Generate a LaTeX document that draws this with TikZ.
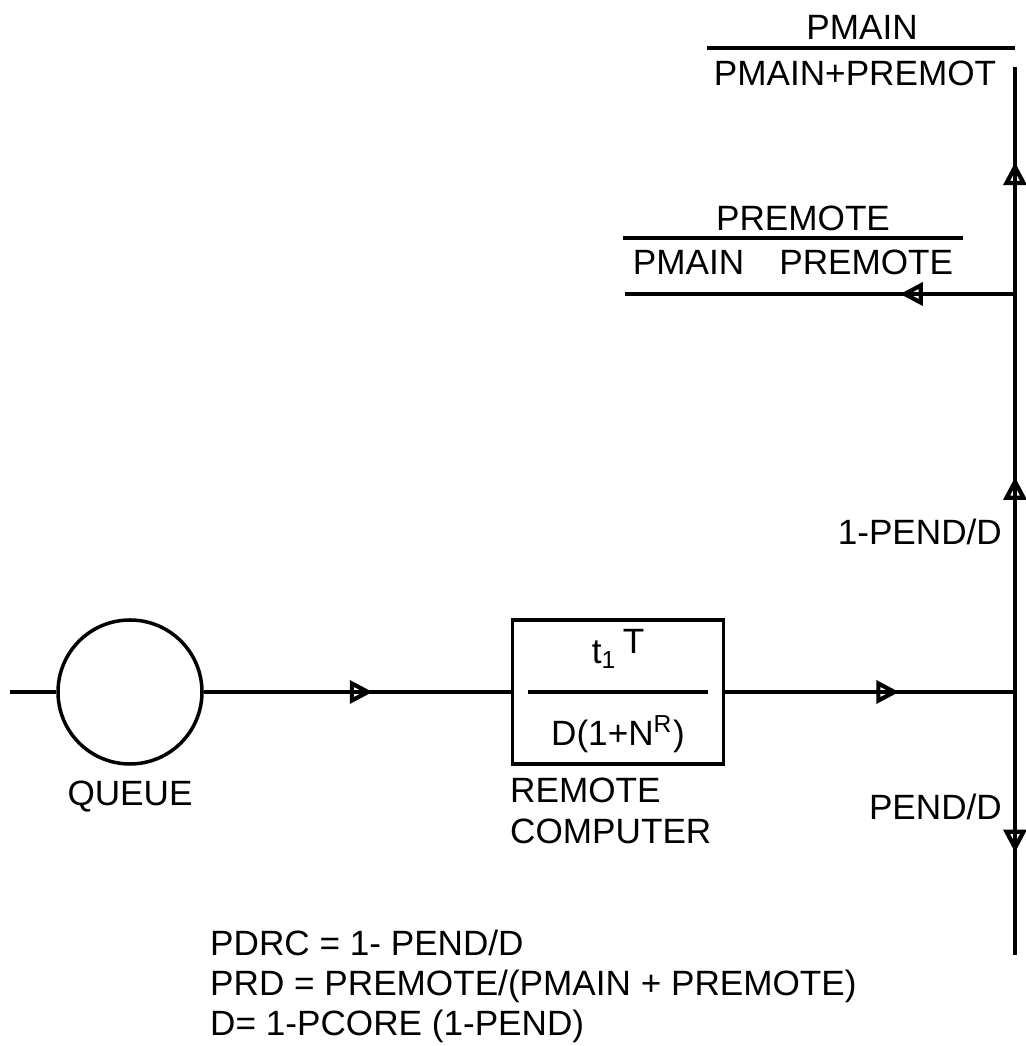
\documentclass[tikz,border=0pt]{standalone}
\usepackage{fontspec}
\setmainfont{Liberation Sans}
\usepackage{tikz}
\usetikzlibrary{arrows.meta, decorations.markings, positioning, calc}

\tikzset{
  lbl/.style={font=\fontsize{10}{11.5}\selectfont, inner sep=1pt},
  flow/.style={line width=0.9pt, postaction={decorate},
    decoration={markings, mark=at position #1 with {\arrow{Triangle[open, length=6.5pt, width=6.5pt, line width=1.2pt]}}}},
  wire/.style={line width=0.9pt}
}

\begin{document}
\begin{tikzpicture}[scale=1.0]

    % --- 1. BOUNDARIES ---
    \useasboundingbox (0,0) rectangle (10.26,10.46);
    \def\yMain{3.54}
    \def\xRail{10.15}

    % --- 2. QUEUE AND REMOTE COMPUTER ---
    \coordinate (src) at (0.10, \yMain);
    \node[circle, draw, line width=1pt, minimum size=1.44cm, inner sep=0pt] (queue) at (1.30, \yMain) {};
    \node[lbl] (qlabel) at (1.30, 2.49) {QUEUE};

    \node[rectangle, draw, line width=1pt, minimum width=2.11cm, minimum height=1.44cm, inner sep=0pt] (rcomp) at (6.18, \yMain) {};
    \node[lbl] (num) at ($(rcomp.center)+(0,0.43)$) {t\textsubscript{1}\,\raisebox{0.5ex}{T}};
    \node[lbl] (den) at ($(rcomp.center)+(0,-0.42)$) {D(1+N\textsuperscript{R})};
    \draw[wire] ($(rcomp.center)+(-0.9,0)$) -- ($(rcomp.center)+(0.9,0)$);
    \node[lbl, anchor=north west, align=left] (rlabel) at (5.06, 2.72) {REMOTE\\COMPUTER};

    % --- 3. MAIN FLOW ---
    \coordinate (jn) at (\xRail, \yMain);
    \draw[wire] (src) -- (queue);
    \draw[flow=0.55] (queue) -- (rcomp);
    \draw[flow=0.60] (rcomp) -- (jn);

    % --- 4. RAIL (exits) ---
    \coordinate (br) at (\xRail, 7.52);
    \coordinate (top) at (\xRail, 9.79);
    \coordinate (bot) at (\xRail, 0.91);
    \coordinate (brend) at (6.25, 7.52);
    \draw[flow=0.54] (jn) -- (br);
    \draw[flow=0.58] (br) -- (top);
    \draw[flow=0.61] (jn) -- (bot);
    \draw[flow=0.295] (br) -- (brend);

    \node[lbl, anchor=east] (pdone) at (10.06, 5.14) {1-PEND/D};
    \node[lbl, anchor=east] (pend) at (10.06, 2.39) {PEND/D};

    % --- 5. BRANCH PROBABILITIES ---
    \node[lbl] (pmain) at (8.62, 10.19) {PMAIN};
    \draw[wire] (7.07, 9.98) -- (\xRail, 9.98);
    \node[lbl] (pmainden) at (8.55, 9.73) {PMAIN+PREMOT};

    \node[lbl] (prem) at (8.03, 8.28) {PREMOTE};
    \draw[wire] (6.23, 8.08) -- (9.63, 8.08);
    \node[lbl] (premden) at (7.93, 7.84) {PMAIN\quad PREMOTE};

    % --- 6. DEFINITIONS ---
    \node[lbl, anchor=north west, align=left, font=\fontsize{10}{11.3}\selectfont] (defs) at (2.06, 1.20)
      {PDRC = 1- PEND/D\\PRD = PREMOTE/(PMAIN + PREMOTE)\\D= 1-PCORE (1-PEND)};

\end{tikzpicture}
\end{document}
